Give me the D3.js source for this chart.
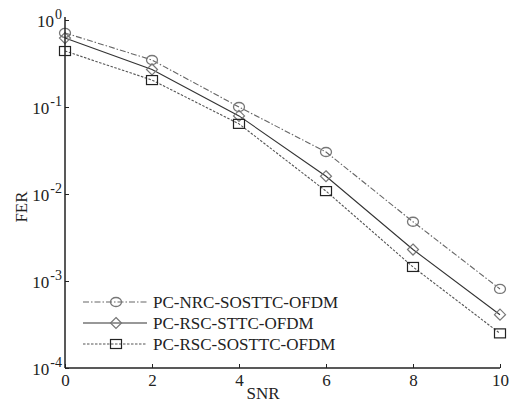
<!DOCTYPE html>
<html><head><meta charset="utf-8">
<script src="https://cdn.jsdelivr.net/npm/d3@7"></script>
<style>body{margin:0;background:#fff}svg text{font-family:"Liberation Serif","Times New Roman",serif;fill:#222}</style>
</head><body><svg id="c" width="516" height="404"></svg>
<script>
const snr = [0, 2, 4, 6, 8, 10];
const nrcSostt = [0.71, 0.347, 0.1, 0.0304, 0.0048, 0.00081];
const rscStt = [0.62, 0.27, 0.079, 0.016, 0.0023, 0.00041];
const rscSostt = [0.44, 0.204, 0.064, 0.0108, 0.00145, 0.00025];
const seriesNames = ["PC-NRC-SOSTTC-OFDM", "PC-RSC-STTC-OFDM", "PC-RSC-SOSTTC-OFDM"];
const xTicks = [0, 2, 4, 6, 8, 10];
const yExps = [0, -1, -2, -3, -4];

const svg = d3.select("#c");
const x = d3.scaleLinear().domain([0, 10]).range([65, 500]);
const y = d3.scaleLog().domain([1e-4, 1]).range([368, 20]);

const styles = [
  {stroke: "#666", dash: "6,2,1.5,2", marker: "circle", mstroke: "#777"},
  {stroke: "#333", dash: null, marker: "diamond", mstroke: "#777"},
  {stroke: "#555", dash: "2.5,1.5", marker: "square", mstroke: "#222"}
];
const data = [nrcSostt, rscStt, rscSostt];

function drawMarker(g, type, cx, cy, col) {
  if (type === "circle") {
    g.append("ellipse").attr("cx", cx).attr("cy", cy).attr("rx", 5.5).attr("ry", 4.5)
      .attr("fill", "none").attr("stroke", col).attr("stroke-width", 1.3);
  } else if (type === "diamond") {
    g.append("path").attr("d", `M${cx},${cy-5.5}L${cx+5.5},${cy}L${cx},${cy+5.5}L${cx-5.5},${cy}Z`)
      .attr("fill", "none").attr("stroke", col).attr("stroke-width", 1.2);
  } else {
    g.append("rect").attr("x", cx-5.5).attr("y", cy-4.5).attr("width", 11).attr("height", 9)
      .attr("fill", "none").attr("stroke", col).attr("stroke-width", 1.2);
  }
}

const line = d3.line().x((d, i) => x(snr[i])).y(d => y(d));
data.forEach((s, k) => {
  const st = styles[k];
  const g = svg.append("g");
  g.append("path").attr("d", line(s)).attr("fill", "none").attr("stroke", st.stroke)
    .attr("stroke-width", 1.1).attr("stroke-dasharray", st.dash);
  s.forEach((v, i) => drawMarker(g, st.marker, x(snr[i]), y(v), st.mstroke));
});

// axes
const xAxis = d3.axisBottom(x).tickValues(xTicks).tickSize(-4).tickPadding(6).tickFormat(d3.format("d"));
const gx = svg.append("g").attr("transform", "translate(0,368)").call(xAxis);
gx.select(".domain").attr("d", "M65,0H500").attr("stroke", "#222").attr("stroke-width", 1.5);
gx.selectAll(".tick line").attr("stroke", "#222");
gx.selectAll(".tick text").attr("font-size", 17).attr("fill", "#222").style("font-family", '"Liberation Serif",serif');

const yAxis = d3.axisLeft(y).tickValues(yExps.map(e => Math.pow(10, e))).tickSize(-4).tickFormat("");
const gy = svg.append("g").attr("transform", "translate(65,0)").call(yAxis);
gy.select(".domain").attr("d", "M0,17V368").attr("stroke", "#222").attr("stroke-width", 1.5);
gy.selectAll(".tick line").attr("stroke", "#222");

yExps.forEach(e => {
  const t = svg.append("text").attr("x", 62).attr("y", y(Math.pow(10, e)) + 7)
    .attr("text-anchor", "end").attr("font-size", 17);
  t.append("tspan").text("10");
  t.append("tspan").attr("dy", -8).attr("dx", 1).attr("font-size", 14).text(e === 0 ? "0" : "-" + (-e));
});

svg.append("text").attr("x", 263).attr("y", 399).attr("text-anchor", "middle").attr("font-size", 17).text("SNR");
svg.append("text").attr("transform", "translate(27,207) rotate(-90)").attr("text-anchor", "middle").attr("font-size", 17).text("FER");

// legend
seriesNames.forEach((n, k) => {
  const st = styles[k];
  const ly = 302 + k * 21;
  const g = svg.append("g");
  g.append("line").attr("x1", 83).attr("x2", 147).attr("y1", ly).attr("y2", ly)
    .attr("stroke", st.stroke).attr("stroke-width", 1.1).attr("stroke-dasharray", st.dash);
  drawMarker(g, st.marker, 116, ly, st.mstroke);
  g.append("text").attr("x", 153).attr("y", ly + 6).attr("font-size", 17).text(n);
});
</script></body></html>
